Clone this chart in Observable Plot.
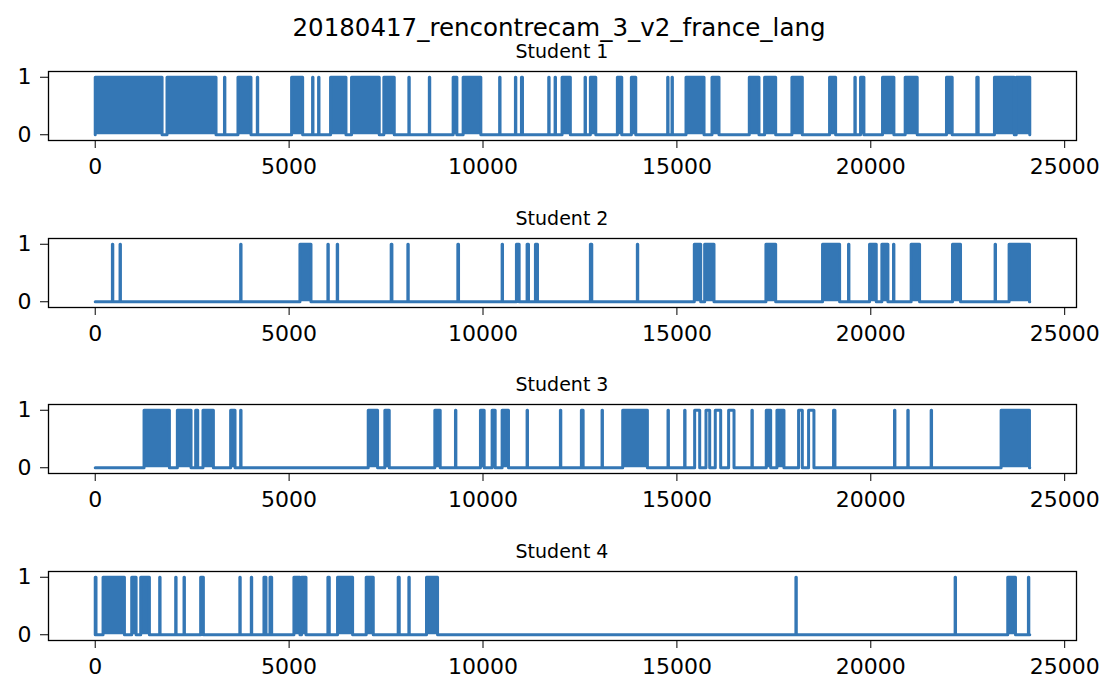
<!DOCTYPE html>
<html><head><meta charset="utf-8">
<script src="https://cdn.jsdelivr.net/npm/d3@7"></script>
<script src="https://cdn.jsdelivr.net/npm/@observablehq/plot@0.6"></script>
<style>
html,body{margin:0;background:#fff;overflow:hidden;}
#fig{position:relative;width:1107px;height:677px;background:#fff;font-family:"DejaVu Sans",sans-serif;color:#000;}
.t{position:absolute;white-space:nowrap;line-height:1;transform:translateX(-50%);}
.panel{position:absolute;left:0;}
</style></head><body><div id="fig"></div>
<script>
// ---- data: sample-index ranges where each student's signal is 1 ----
const figureTitle = "20180417_rencontrecam_3_v2_france_lang";
const studentNames = ["Student 1", "Student 2", "Student 3", "Student 4"];
const seriesEnd = 24100;
const xTicks = [0, 5000, 10000, 15000, 20000, 25000];
const yTicks = [0, 1];

// dense / rapidly toggling ranges (drawn solid)
const student1On = [[0,1724],[1851,3115],[3333,3343],[3681,4017],[4180,4190],[5064,5349],[5605,5615],[5760,5770],[6069,6466],[6610,7324],[7443,7711],[8088,8098],[8616,8626],[9230,9326],[9488,9944],[10429,10439],[10836,10846],[10991,11018],[11695,11705],[11859,11869],[12039,12252],[12632,12642],[12769,12908],[13465,13578],[13826,13939],[14762,14772],[14874,14884],[15235,15700],[15905,16086],[16867,17117],[17262,17547],[17966,18234],[18937,19093],[19590,19600],[19736,19823],[20303,20596],[20887,21197],[21952,22099],[22734,22769],[23189,23700],[23750,24100]];
const student2On = [[443,453],[640,650],[3750,3760],[5279,5564],[6000,6010],[6241,6251],[7632,7651],[8062,8072],[9351,9369],[10493,10503],[10862,10932],[11137,11173],[11352,11405],[12769,12805],[13980,13990],[15449,15614],[15716,15957],[17296,17547],[18756,19196],[19426,19436],[19968,20141],[20286,20442],[20586,20596],[21041,21258],[22107,22314],[23206,23216],[23567,24092]];
const student3On = [[1259,1913],[2118,2471],[2590,2643],[2779,3047],[3492,3605],[3750,3760],[7040,7281],[7469,7582],[8758,8896],[9290,9300],[9934,10030],[10235,10314],[10493,10657],[11137,11147],[11996,12006],[12537,12582],[13070,13080],[13603,14239],[14771,14781],[15200,15210],[16935,16945],[17305,17418],[17580,17761],[19040,19076],[20612,20622],[20955,20965],[21557,21567],[23361,24092]];
const student4On = [[0,20],[202,753],[941,1054],[1173,1397],[1662,1672],[2075,2085],[2290,2300],[2719,2789],[3729,3739],[4025,4035],[4351,4404],[4506,4550],[5124,5280],[5320,5435],[6000,6036],[6249,6637],[6988,7170],[7813,7840],[8088,8098],[8543,8828],[18069,18079],[22175,22185],[23532,23731],[24065,24075]];

// sustained single pulses (drawn as outlines)
const student1Held = [];
const student2Held = [];
const student3Held = [[15458,15588],[15750,15846],[15990,16129],[16334,16473],[18138,18234],[18396,18534]];
const student4Held = [];

const studentsOn = [student1On, student2On, student3On, student4On];
const studentsHeld = [student1Held, student2Held, student3Held, student4Held];

// ---- binary step series from the ranges ----
function toSeries(ranges) {
  const on = ranges.slice().sort((a, b) => a[0] - b[0]);
  const pts = [];
  if (on[0][0] > 0) pts.push({x: 0, y: 0});
  for (const [s, e] of on) pts.push({x: s, y: 0}, {x: s, y: 1}, {x: e, y: 1}, {x: e, y: 0});
  if (on[on.length - 1][1] < seriesEnd) pts.push({x: seriesEnd, y: 0});
  return pts;
}

const color = "#3477b5";
const fig = document.getElementById("fig");

const title = document.createElement("div");
title.className = "t";
title.textContent = figureTitle;
title.style.cssText = "left:559px;top:16px;font-size:24.5px;";
fig.appendChild(title);

const frameTop0 = 71, panelStep = 166.67, MT = 34, MB = 44, frameH = 69;

studentsOn.forEach((on, i) => {
  const series = toSeries(on.concat(studentsHeld[i]));
  const top = frameTop0 + i * panelStep;
  const st = document.createElement("div");
  st.className = "t";
  st.textContent = studentNames[i];
  st.style.cssText = `left:562px;top:${top - 29}px;font-size:19px;`;
  fig.appendChild(st);

  const chart = Plot.plot({
    width: 1107,
    height: MT + frameH + MB,
    marginLeft: 48, marginRight: 31, marginTop: MT, marginBottom: MB,
    style: {fontFamily: "DejaVu Sans", fontSize: "22px", color: "#000", background: "transparent", overflow: "visible"},
    x: {domain: [-1205, 25305], ticks: xTicks, tickFormat: d => `${d}`, tickSize: 8, tickPadding: 10, label: null},
    y: {domain: [-0.1, 1.1], ticks: yTicks, tickFormat: d => `${d}`, tickSize: 8, tickPadding: 9, label: null},
    marks: [
      Plot.rectY(on, {x1: d => d[0], x2: d => d[1], y1: 0, y2: 1, fill: color}),
      Plot.line(series, {x: "x", y: "y", stroke: color, strokeWidth: 3, strokeLinejoin: "round", curve: "linear"}),
      Plot.frame({stroke: "#000", strokeWidth: 1.3})
    ]
  });
  chart.classList.add("panel");
  chart.style.top = (top - MT) + "px";
  fig.appendChild(chart);
});
</script>
</body></html>
